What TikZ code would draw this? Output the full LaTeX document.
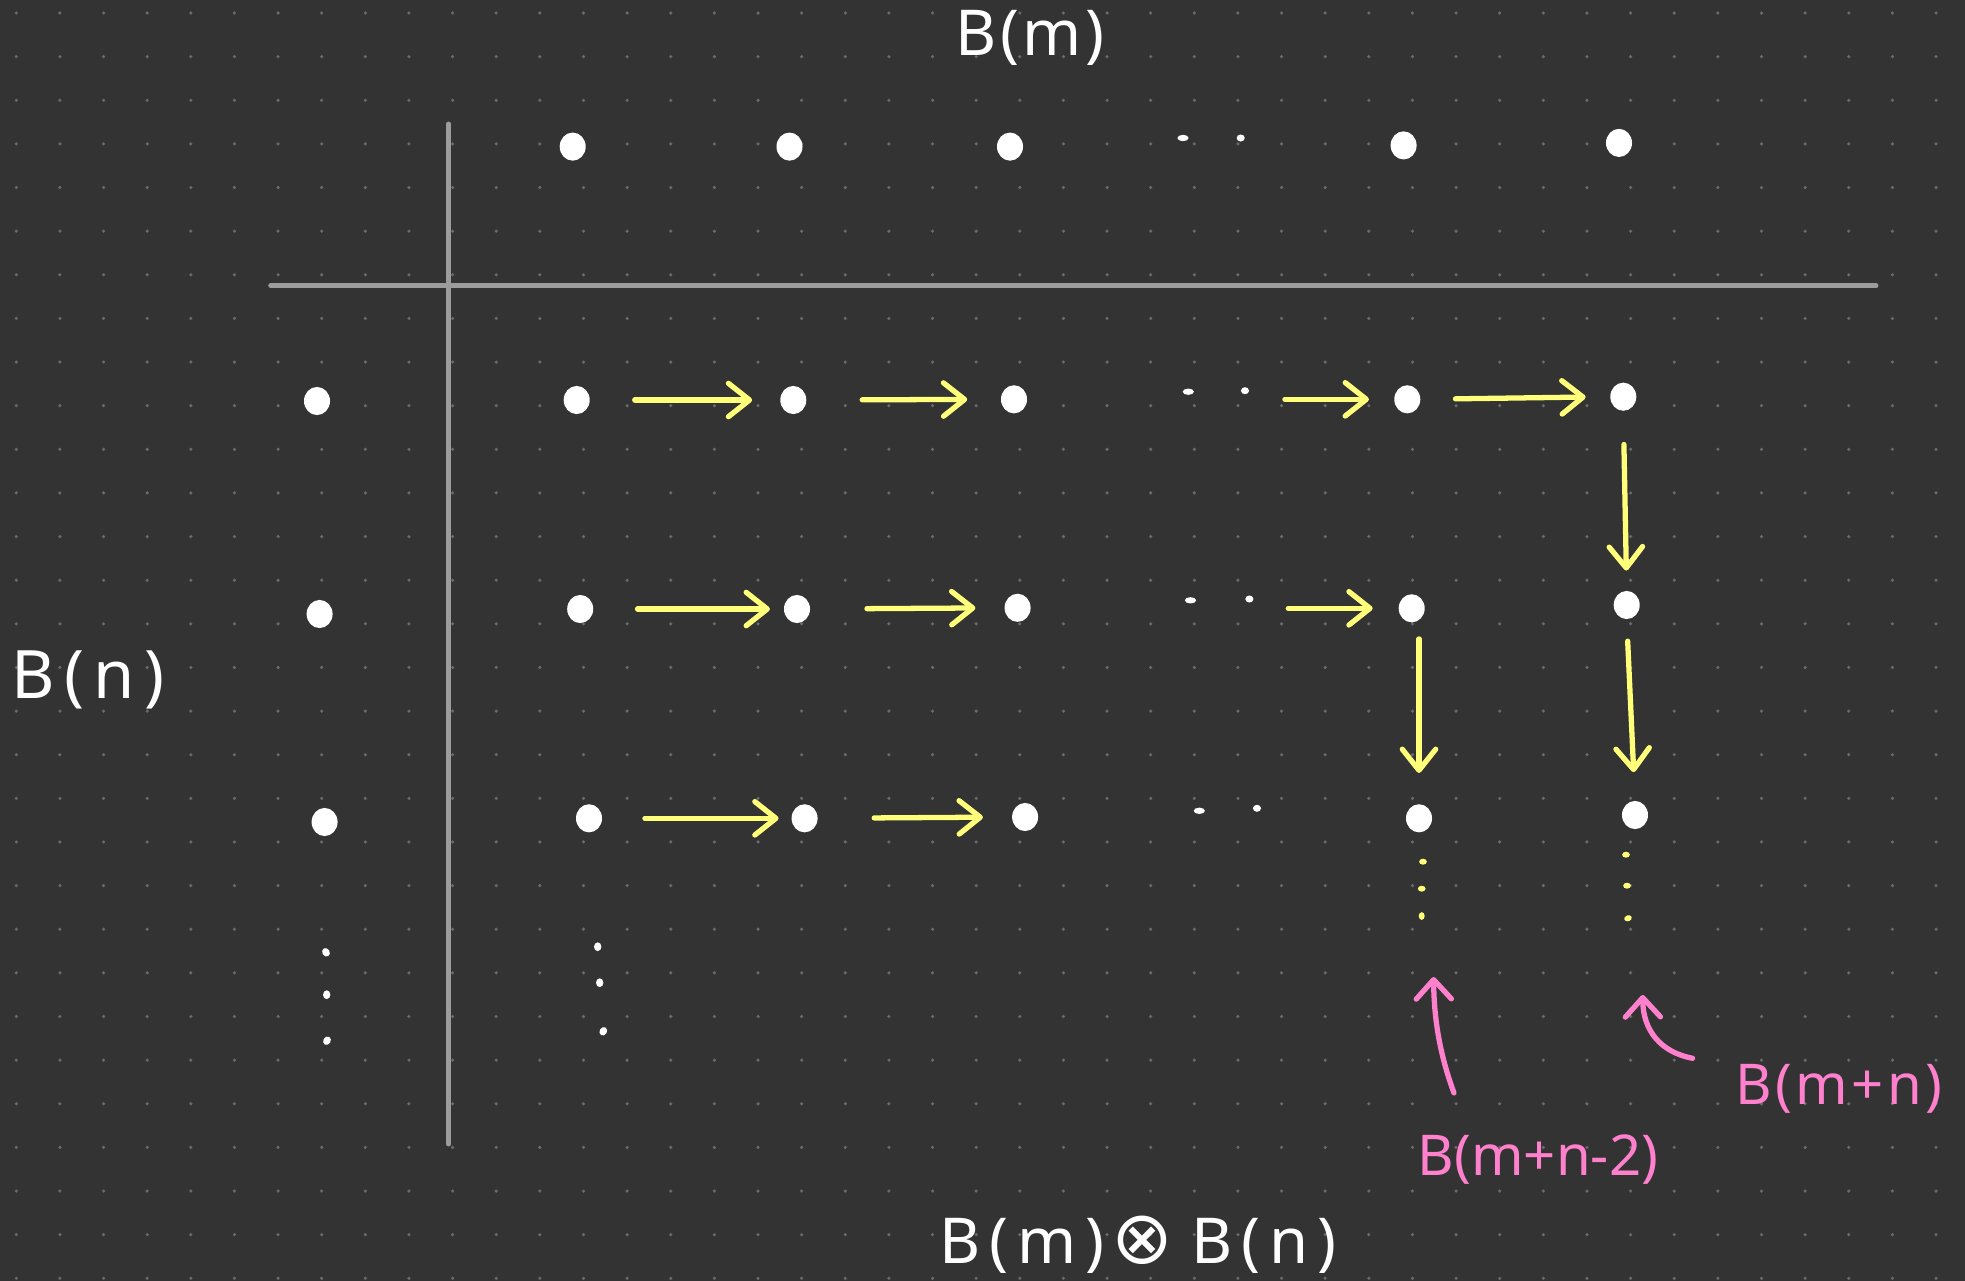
\documentclass[tikz,border=0pt]{standalone}
\usepackage{fontspec}
\newfontfamily\hand[LetterSpace=6]{Noto Sans}
\newfontfamily\handw[LetterSpace=14]{Noto Sans}
\newfontfamily\handn{Noto Sans}
\newfontfamily\symf{DejaVu Sans}
\usetikzlibrary{arrows.meta,shapes.geometric}
\definecolor{bgc}{HTML}{333333}
\definecolor{griddot}{HTML}{6A6A6A}
\definecolor{axisc}{HTML}{9C9C9C}
\definecolor{hy}{HTML}{FFFF7A}
\definecolor{hp}{HTML}{FF80CC}
\begin{document}
\begin{tikzpicture}[x=0.01cm,y=-0.01cm,
  wdot/.style={ellipse,fill=white,inner sep=0pt,minimum width=7.4pt,minimum height=8pt},
  sdot/.style={ellipse,fill=white,inner sep=0pt,minimum width=3.2pt,minimum height=1.8pt},
  sdotb/.style={ellipse,fill=white,inner sep=0pt,minimum width=2.3pt,minimum height=2pt},
  vdot/.style={ellipse,fill=white,inner sep=0pt,minimum width=2.1pt,minimum height=2.5pt},
  ydot/.style={ellipse,fill=hy,inner sep=0pt,minimum width=2.2pt,minimum height=1.7pt},
  yarr/.style={draw=hy,line width=1.5pt,line cap=round,
    -{Straight Barb[length=6pt,width=9.5pt,line cap=round,line join=round]}},
  parr/.style={draw=hp,line width=1.5pt,line cap=round,
    -{Straight Barb[length=5.5pt,width=10pt,line cap=round,line join=round]}},
  axisl/.style={draw=axisc,line width=1.4pt,line cap=round},
  lbl/.style={inner sep=0pt,text=white},
  plbl/.style={inner sep=0pt,text=hp}]
\fill[bgc] (0,0) rectangle (1965,1281);
\useasboundingbox (0,0) rectangle (1965,1281);
\foreach \i in {0,...,44}{\foreach \j in {0,...,29}{
  \fill[griddot] (16.3+43.63*\i,13+43.63*\j) circle[radius=0.5pt];}}
% axes
\coordinate (hl) at (270.7,285.7);
\coordinate (hr) at (1876,285.7);
\coordinate (vt) at (448.6,124);
\coordinate (vb) at (448.6,1144);
\draw[axisl] (hl) -- (hr);
\draw[axisl] (vt) -- (vb);
% header row
\node[wdot] (h1) at (572.7,146.6) {};
\node[wdot] (h2) at (789.5,146.6) {};
\node[wdot] (h3) at (1010,146.6) {};
\node[sdot] (hs1) at (1183,138) {};
\node[sdotb] (hs2) at (1240.7,138) {};
\node[wdot] (h4) at (1403.6,145.4) {};
\node[wdot] (h5) at (1619,142.9) {};
% left column
\node[wdot] (l1) at (317,401) {};
\node[wdot] (l2) at (319.6,614) {};
\node[wdot] (l3) at (324.6,822) {};
\node[vdot,rotate=30] (ls1) at (326,952.3) {};
\node[vdot] (ls2) at (326.7,994.7) {};
\node[vdot,rotate=-30] (ls3) at (327,1040.7) {};
% row 1
\node[wdot] (r1c1) at (576.7,400) {};
\node[wdot] (r1c2) at (793.3,400) {};
\node[wdot] (r1c3) at (1014,399.3) {};
\node[sdot] (r1s1) at (1188.3,391.7) {};
\node[sdotb] (r1s2) at (1245,390.7) {};
\node[wdot] (r1c4) at (1407.3,399.3) {};
\node[wdot] (r1c5) at (1623.3,396.7) {};
% row 2
\node[wdot] (r2c1) at (580.2,609) {};
\node[wdot] (r2c2) at (797,609) {};
\node[wdot] (r2c3) at (1017.6,607.8) {};
\node[sdot] (r2s1) at (1190.5,600.3) {};
\node[sdotb] (r2s2) at (1249.4,599) {};
\node[wdot] (r2c4) at (1411.7,608.3) {};
\node[wdot] (r2c5) at (1626.7,605) {};
% row 3
\node[wdot] (r3c1) at (589,818.3) {};
\node[wdot] (r3c2) at (804.6,818.3) {};
\node[wdot] (r3c3) at (1025.1,817) {};
\node[sdot] (r3s1) at (1199.3,810.8) {};
\node[sdotb] (r3s2) at (1257,808.3) {};
\node[wdot] (r3c4) at (1419,818.3) {};
\node[wdot] (r3c5) at (1635,815) {};
% column 1 continuation
\node[vdot] (cs1) at (597.7,946.7) {};
\node[vdot] (cs2) at (599.7,982.7) {};
\node[vdot,rotate=-30] (cs3) at (603.3,1031.3) {};
% yellow continuation dots
\node[ydot] (y41) at (1423,861.7) {};
\node[ydot] (y42) at (1421.7,888.7) {};
\node[ydot,rotate=90] (y43) at (1421.7,916) {};
\node[ydot] (y51) at (1626,854.7) {};
\node[ydot] (y52) at (1627,885.7) {};
\node[ydot,rotate=20] (y53) at (1628,918.3) {};
% horizontal arrows
\draw[yarr,shorten <=12.6pt,shorten >=7.8pt] (r1c1.east) -- (r1c2.west);
\draw[yarr,shorten <=15.7pt,shorten >=9.4pt] (r1c2.east) -- (r1c3.west);
\draw[yarr,shorten <=10pt,shorten >=7pt] (r1s2.east |- r1c4.west) -- (r1c4.west);
\draw[yarr,shorten <=9.8pt,shorten >=6.8pt] (r1c4.east) -- (r1c5.west);
\draw[yarr,shorten <=12.4pt,shorten >=3.8pt] (r2c1.east) -- (r2c2.west);
\draw[yarr,shorten <=16pt,shorten >=8.1pt] (r2c2.east) -- (r2c3.west);
\draw[yarr,shorten <=9.7pt,shorten >=7.2pt] (r2s2.east |- r2c4.west) -- (r2c4.west);
\draw[yarr,shorten <=12pt,shorten >=3.5pt] (r3c1.east) -- (r3c2.west);
\draw[yarr,shorten <=15.9pt,shorten >=8.1pt] (r3c2.east) -- (r3c3.west);
% vertical arrows
\draw[yarr,shorten <=9.4pt,shorten >=5.6pt] (r1c5.south) -- (r2c5.north);
\draw[yarr,shorten <=4.5pt,shorten >=8.7pt] (r3c4 |- r2c4.south) -- (r3c4.north);
\draw[yarr,shorten <=6.1pt,shorten >=8pt] (r2c5.south) -- (r3c5.north);
% labels
\node[lbl,font=\hand\fontsize{18}{20}\selectfont] (tm) at (1030,38) {B(m)};
\node[lbl,font=\handw\fontsize{19}{21}\selectfont] (tn) at (88,680) {B(n)};
\node[lbl,font=\handw\fontsize{18}{20}\selectfont] (tmn) at (1138,1245)
  {B(m)\hspace{2pt}{\symf\fontsize{21}{21}\selectfont ⊗}\hspace{5pt}B(n)};
\node[plbl,font=\handn\fontsize{16}{18}\selectfont] (tmn2) at (1538,1160) {B(m+n-2)};
\node[plbl,font=\hand\fontsize{16}{18}\selectfont] (tmn0) at (1839,1089) {B(m+n)};
% pink arrows
\coordinate (p1s) at (1454,1093);
\coordinate (p1e) at (1433.6,977);
\coordinate (p2s) at (1692.6,1058.3);
\coordinate (p2e) at (1642.7,995);
\draw[parr] (p1s) .. controls (1440,1055) and (1434,1020) .. (p1e);
\draw[parr] (p2s) .. controls (1660,1052) and (1643,1030) .. (p2e);
\end{tikzpicture}
\end{document}
